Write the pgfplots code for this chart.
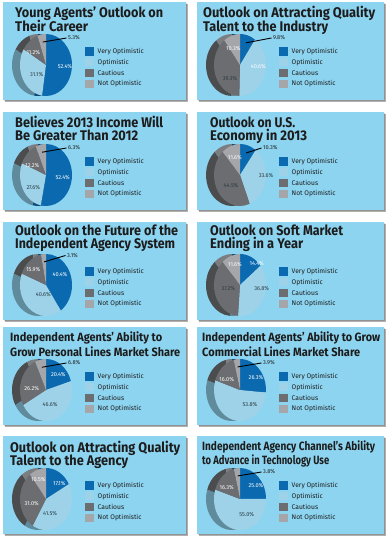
\documentclass[border=0pt]{standalone}
\usepackage{pgfplots}
\pgfplotsset{compat=1.18}
\usepackage{pgfplotstable}
\usepackage{graphicx}
\usepackage{fontspec}
\setmainfont{Fira Sans}

\definecolor{panelc}{HTML}{8DD4F0}
\definecolor{voC}{HTML}{0B6AAF}
\definecolor{voS}{HTML}{094A7A}
\definecolor{opC}{HTML}{9DD2E9}
\definecolor{opS}{HTML}{5F8B9D}
\definecolor{caC}{HTML}{6C6D70}
\definecolor{caS}{HTML}{4B4C4E}
\definecolor{noC}{HTML}{A4A6A9}
\definecolor{noS}{HTML}{7B7D80}
\definecolor{textc}{HTML}{1C1C1C}
\definecolor{darklab}{HTML}{2B3A42}

% panel left x, panel top y (pixels from top), shares in percent
\pgfplotstableread{
x0 ytop vo op ca no
3 2 52.4 31.1 11.2 5.3
197 2 9.8 40.6 39.3 10.3
3 112 52.4 27.6 12.2 6.3
197 112 10.3 33.6 44.5 11.6
3 222 40.4 40.6 15.9 3.1
197 222 14.4 36.8 37.2 11.6
3 327 20.4 46.6 26.2 6.8
197 327 26.3 53.8 16.0 3.9
3 436 17.1 41.5 31.0 10.5
197 436 25.0 55.0 16.3 3.8
}\piedata

\def\rx{26}
\def\ry{31}
\newcommand\labfont{\fontsize{5.6}{6}\selectfont}
\newcommand\legfont{\fontsize{6.7}{7}\selectfont}

\newcommand\wedgeplot[5]{%
  \pgfmathsetmacro\px{#1+\rx*cos(#3)}%
  \pgfmathsetmacro\py{#2+\ry*sin(#3)}%
  \edef\cmd{\noexpand\addplot[fill=#5, draw=none, forget plot] coordinates {(#1,#2) (\px,\py)} arc[start angle=#3, end angle=#4, x radius=\rx pt, y radius=\ry pt] -- cycle;}%
  \cmd}

\newcommand\drawpie[1]{%
  \pgfplotstablegetelem{#1}{x0}\of\piedata\edef\Xo{\pgfplotsretval}%
  \pgfplotstablegetelem{#1}{ytop}\of\piedata\edef\Yt{\pgfplotsretval}%
  \pgfplotstablegetelem{#1}{vo}\of\piedata\edef\Va{\pgfplotsretval}%
  \pgfplotstablegetelem{#1}{op}\of\piedata\edef\Vb{\pgfplotsretval}%
  \pgfplotstablegetelem{#1}{ca}\of\piedata\edef\Vc{\pgfplotsretval}%
  \pgfplotstablegetelem{#1}{no}\of\piedata\edef\Vd{\pgfplotsretval}%
  \pgfmathsetmacro\S{\Va+\Vb+\Vc+\Vd}%
  \def\Aa{90}%
  \pgfmathsetmacro\Ab{90-360*(\Va/\S)}%
  \pgfmathsetmacro\Ac{\Ab-360*(\Vb/\S)}%
  \pgfmathsetmacro\Ad{\Ac-360*(\Vc/\S)}%
  \def\Ae{-270}%
  \pgfmathsetmacro\cy{536-\Yt-63}%
  \pgfmathsetmacro\cx{\Xo+43-8}%
  \wedgeplot{\cx}{\cy}{\Aa}{\Ab}{voS}%
  \wedgeplot{\cx}{\cy}{\Ab}{\Ac}{opS}%
  \wedgeplot{\cx}{\cy}{\Ac}{\Ad}{caS}%
  \wedgeplot{\cx}{\cy}{\Ad}{\Ae}{noS}%
  \pgfmathsetmacro\cx{\Xo+43}%
  \wedgeplot{\cx}{\cy}{\Aa}{\Ab}{voC}%
  \wedgeplot{\cx}{\cy}{\Ab}{\Ac}{opC}%
  \wedgeplot{\cx}{\cy}{\Ac}{\Ad}{caC}%
  \wedgeplot{\cx}{\cy}{\Ad}{\Ae}{noC}%
}

\newcommand\panel[3]{% x0, ytop, width
  \foreach \k in {1,2,3}{
    \fill[black, opacity=0.17] (#1+\k*0.8, 536-#2-98-\k*0.8) rectangle (#1+#3+\k*0.8, 536-#2-\k*0.8);
  }
  \fill[panelc] (#1, 536-#2-98) rectangle (#1+#3, 536-#2);
}

% baselines of the two title lines are taken from \bA and \bB
\newcommand\ttl[8]{% x0 ytop tx size W1 line1 W2 line2
  \node[anchor=base west, inner sep=0, text=textc] at (#1+#3, 536-#2-\bA)
    {\resizebox{#5pt}{\height}{\fontsize{#4}{#4}\selectfont\bfseries #6}};
  \node[anchor=base west, inner sep=0, text=textc] at (#1+#3, 536-#2-\bB)
    {\resizebox{#7pt}{\height}{\fontsize{#4}{#4}\selectfont\bfseries #8}};
}

\newcommand\legendbox[2]{%
  \foreach \i/\c/\t in {0/voC/Very Optimistic, 1/opC/Optimistic, 2/caC/Cautious, 3/noC/Not Optimistic}{
    \fill[\c] (#1+82, 536-#2-49.5-10.8*\i-4.2) rectangle ++(8.7,8.5);
    \node[anchor=west, font=\legfont, text=textc, inner sep=0] at (#1+94.5, 536-#2-49.5-10.8*\i) {\t};
  }}

\newcommand\lab[6]{% x0 ytop relx rely value color
  \node[text=#6, font=\labfont, inner sep=0] at (#1+#3, 536-#2-#4) {#5\%};}

\newcommand\outlab[6]{% x0 ytop cumbefore val labx laby
  \pgfmathsetmacro\ma{90-3.6*(#3+#4/2)}%
  \pgfmathsetmacro\sx{#1+43+\rx*0.75*cos(\ma)}%
  \pgfmathsetmacro\sy{536-#2-63+\ry*0.75*sin(\ma)}%
  \draw[black, line width=0.9pt] (\sx,\sy) -- (#1+#5-1.5, 536-#2-#6);
  \node[anchor=west, font=\labfont, text=textc, inner sep=0] at (#1+#5, 536-#2-#6) {#4\%};}

\begin{document}
\begin{tikzpicture}[x=1pt, y=1pt]
\useasboundingbox (0,0) rectangle (389,536);
\fill[white] (0,0) rectangle (389,536);
\panel{3}{2}{183}\panel{197}{2}{187}
\panel{3}{112}{183}\panel{197}{112}{187}
\panel{3}{222}{183}\panel{197}{222}{187}
\panel{3}{327}{183}\panel{197}{327}{187}
\panel{3}{436}{183}\panel{197}{436}{187}

\begin{axis}[at={(0,0)}, anchor=south west, scale only axis,
  width=389pt, height=536pt, xmin=0, xmax=389, ymin=0, ymax=536,
  hide axis, clip=false]
\drawpie{0}\drawpie{1}\drawpie{2}\drawpie{3}\drawpie{4}
\drawpie{5}\drawpie{6}\drawpie{7}\drawpie{8}\drawpie{9}
\end{axis}

% titles
\def\bA{15.5}\def\bB{30}
\ttl{3}{2}{12}{14}{148}{Young Agents' Outlook on}{73}{Their Career}
\def\bA{16}\def\bB{29.5}
\ttl{197}{2}{6}{14}{172}{Outlook on Attracting Quality}{125}{Talent to the Industry}
\def\bA{15.5}\def\bB{28.8}
\ttl{3}{112}{12}{14}{148}{Believes 2013 Income Will}{123}{Be Greater Than 2012}
\def\bA{16}\def\bB{29}
\ttl{197}{112}{13}{14}{85}{Outlook on U.S.}{97}{Economy in 2013}
\def\bA{13.5}\def\bB{26.8}
\ttl{3}{222}{12}{14}{163}{Outlook on the Future of the}{160}{Independent Agency System}
\def\bA{13.8}\def\bB{27}
\ttl{197}{222}{13}{14}{133}{Outlook on Soft Market}{93}{Ending in a Year}
\def\bA{15}\def\bB{29.5}
\ttl{3}{327}{7}{12}{152}{Independent Agents' Ability to}{170}{Grow Personal Lines Market Share}
\ttl{197}{327}{5}{12}{178}{Independent Agents' Ability to Grow}{158}{Commercial Lines Market Share}
\def\bA{16.5}\def\bB{30}
\ttl{3}{436}{7}{14}{170}{Outlook on Attracting Quality}{118}{Talent to the Agency}
\def\bA{14.5}\def\bB{28.5}
\ttl{197}{436}{5}{12}{173}{Independent Agency Channel's Ability}{127}{to Advance in Technology Use}

% legends
\legendbox{3}{2}\legendbox{197}{2}
\legendbox{3}{112}\legendbox{197}{112}
\legendbox{3}{222}\legendbox{197}{222}
\legendbox{3}{327}\legendbox{197}{327}
\legendbox{3}{436}\legendbox{197}{436}

% value labels
\lab{3}{2}{62}{64.7}{52.4}{white}
\lab{3}{2}{33.7}{73}{31.1}{darklab}
\lab{3}{2}{30.3}{50.7}{11.2}{white}
\outlab{3}{2}{94.7}{5.3}{65}{36}

\outlab{197}{2}{0}{9.8}{76}{36}
\lab{197}{2}{61.3}{64.7}{40.6}{white}
\lab{197}{2}{33}{77}{39.3}{darklab}
\lab{197}{2}{36.3}{46.3}{10.3}{white}

\lab{3}{112}{59.7}{65.7}{52.4}{white}
\lab{3}{112}{30.3}{75.7}{27.6}{darklab}
\lab{3}{112}{29.3}{54}{12.2}{white}
\outlab{3}{112}{93.6}{6.3}{65}{36}

\outlab{197}{112}{0}{10.3}{66}{36}
\lab{197}{112}{69}{64}{33.6}{darklab}
\lab{197}{112}{34}{74}{44.5}{darklab}
\lab{197}{112}{38}{45.3}{11.6}{white}

\lab{3}{222}{57}{53}{40.4}{white}
\lab{3}{222}{40.3}{73}{40.6}{darklab}
\lab{3}{222}{30.3}{48}{15.9}{white}
\outlab{3}{222}{96.9}{3.1}{64}{33.5}

\lab{197}{222}{59.7}{41.3}{14.4}{white}
\lab{197}{222}{64.7}{67}{36.8}{darklab}
\lab{197}{222}{31.3}{67}{37.2}{darklab}
\lab{197}{222}{38}{43}{11.6}{white}

\lab{3}{327}{55.3}{48}{20.4}{white}
\lab{3}{327}{47}{78}{46.6}{darklab}
\lab{3}{327}{28.7}{61.3}{26.2}{white}
\outlab{3}{327}{93.2}{6.8}{65}{36}

\lab{197}{327}{59}{50.3}{26.3}{white}
\lab{197}{327}{53}{78}{53.8}{darklab}
\lab{197}{327}{29.7}{53}{16.0}{white}
\outlab{197}{327}{96.1}{3.9}{66}{36}

\lab{3}{436}{56.3}{47.3}{17.1}{white}
\lab{3}{436}{47}{77.7}{41.5}{darklab}
\lab{3}{436}{28.7}{67.3}{31.0}{white}
\lab{3}{436}{35.3}{44}{10.5}{white}

\lab{197}{436}{59}{50}{25.0}{white}
\lab{197}{436}{49.7}{78.3}{55.0}{darklab}
\lab{197}{436}{29.7}{51.7}{16.3}{white}
\outlab{197}{436}{96.3}{3.8}{66}{36}
\end{tikzpicture}
\end{document}
